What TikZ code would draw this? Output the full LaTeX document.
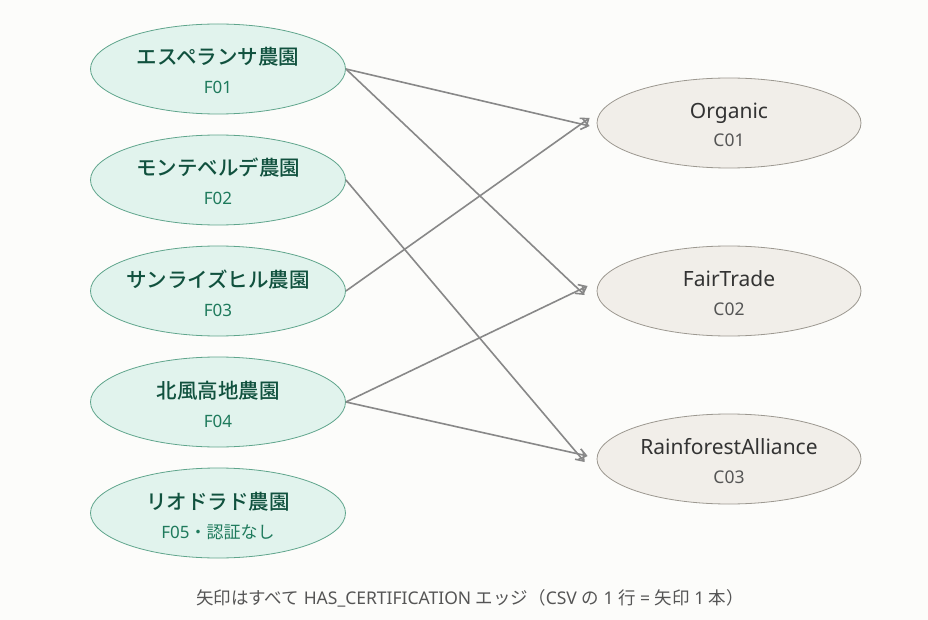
\documentclass[tikz,border=0pt]{standalone}
\usepackage{fontspec}
\setmainfont{Noto Sans}
\newfontfamily\cjk{Noto Sans CJK JP}[BoldFont={Noto Sans CJK JP Medium}]
\usetikzlibrary{shapes.geometric,arrows.meta}
\definecolor{bg}{HTML}{FCFCFA}
\definecolor{farmfill}{HTML}{E1F3ED}
\definecolor{farmdraw}{HTML}{5FA58C}
\definecolor{farmtext}{HTML}{10513E}
\definecolor{farmsub}{HTML}{1E7A5C}
\definecolor{certfill}{HTML}{F1EEE9}
\definecolor{certdraw}{HTML}{9C9890}
\definecolor{certtext}{HTML}{333333}
\definecolor{certsub}{HTML}{555555}
\definecolor{edgecol}{HTML}{888888}
\definecolor{captext}{HTML}{555555}
\tikzset{
  farm/.style={ellipse, draw=farmdraw, fill=farmfill, line width=0.8pt, minimum width=255pt, minimum height=90pt, inner sep=0pt},
  cert/.style={ellipse, draw=certdraw, fill=certfill, line width=0.8pt, minimum width=264pt, minimum height=90pt, inner sep=0pt},
  farmtitle/.style={anchor=base, inner sep=0pt, text=farmtext, font=\fontsize{20.5pt}{24pt}\selectfont\cjk\bfseries},
  farmsub/.style={anchor=base, inner sep=0pt, text=farmsub, font=\fontsize{17pt}{19pt}\selectfont},
  certtitle/.style={anchor=base, inner sep=0pt, text=certtext, font=\fontsize{21pt}{24pt}\selectfont},
  certsub/.style={anchor=base, inner sep=0pt, text=certsub, font=\fontsize{17.5pt}{19pt}\selectfont},
  edge/.style={draw=edgecol, line width=1.6pt, -{Straight Barb[length=7pt,width=11pt,line width=1.6pt]}},
}
\begin{document}
\begin{tikzpicture}[x=1pt,y=-1pt]
\fill[bg] (0,0) rectangle (928,620);
\useasboundingbox (0,0) rectangle (928,620);
\node[farm] (f1) at (218,69) {};
\node[farm] (f2) at (218,180) {};
\node[farm] (f3) at (218,291) {};
\node[farm] (f4) at (218,402) {};
\node[farm] (f5) at (218,513) {};
\node[farmtitle] (t1) at ([yshift=4pt]f1.center) {エスペランサ農園};
\node[farmsub] (s1) at ([yshift=-25pt]f1.center) {F01};
\node[farmtitle] (t2) at ([yshift=4pt]f2.center) {モンテベルデ農園};
\node[farmsub] (s2) at ([yshift=-25pt]f2.center) {F02};
\node[farmtitle] (t3) at ([yshift=4pt]f3.center) {サンライズヒル農園};
\node[farmsub] (s3) at ([yshift=-25pt]f3.center) {F03};
\node[farmtitle] (t4) at ([yshift=4pt]f4.center) {北風高地農園};
\node[farmsub] (s4) at ([yshift=-25pt]f4.center) {F04};
\node[farmtitle] (t5) at ([yshift=4pt]f5.center) {リオドラド農園};
\node[farmsub] (s5) at ([yshift=-25pt]f5.center) {F05{\cjk ・認証なし}};
\node[cert] (c1) at (729,123) {};
\node[cert] (c2) at (729,291) {};
\node[cert] (c3) at (729,459) {};
\node[certtitle] (u1) at ([yshift=4.5pt]c1.center) {Organic};
\node[certsub] (v1) at ([yshift=-24pt]c1.center) {C01};
\node[certtitle] (u2) at ([yshift=4.5pt]c2.center) {FairTrade};
\node[certsub] (v2) at ([yshift=-24pt]c2.center) {C02};
\node[certtitle] (u3) at ([yshift=4.5pt]c3.center) {RainforestAlliance};
\node[certsub] (v3) at ([yshift=-24pt]c3.center) {C03};
\draw[edge] (f1.east) -- ([shift={(-7pt,-3pt)}]c1.west);
\draw[edge] (f1.east) -- ([shift={(-12pt,-4pt)}]c2.west);
\draw[edge] (f2.east) -- ([shift={(-12pt,-3pt)}]c3.west);
\draw[edge] (f3.east) -- ([shift={(-7pt,5pt)}]c1.west);
\draw[edge] (f4.east) -- ([shift={(-9pt,5pt)}]c2.west);
\draw[edge] (f4.east) -- ([shift={(-9pt,3pt)}]c3.west);
\node[text=captext, font=\fontsize{17.5pt}{19pt}\selectfont] (cap) at (470,598) {{\cjk 矢印はすべて} HAS\_CERTIFICATION {\cjk エッジ（}CSV {\cjk の} 1 {\cjk 行} = {\cjk 矢印} 1 {\cjk 本）}};
\end{tikzpicture}
\end{document}
